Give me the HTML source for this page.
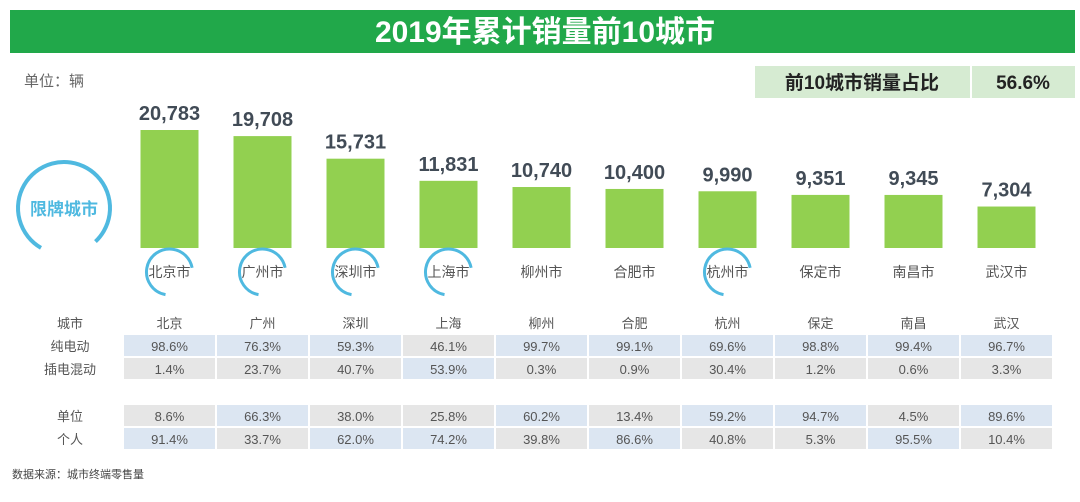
<!DOCTYPE html>
<html><head><meta charset="utf-8"><style>
body{margin:0;width:1080px;height:497px;background:#fff;overflow:hidden;font-family:"Liberation Sans","Noto Sans CJK SC",sans-serif;}
#wrap{position:relative;width:1080px;height:497px;}
svg text{font-family:"Liberation Sans","Noto Sans CJK SC",sans-serif;}
</style></head><body>
<div id="wrap">
<svg id="chart" width="1080" height="497">
  <rect x="10" y="10" width="1065" height="43" fill="#21a84a"/>
  <text x="545" y="42" text-anchor="middle" font-size="30" font-weight="bold" fill="#fff">2019年累计销量前10城市</text>
  <text x="24" y="86" font-size="15" fill="#666">单位：辆</text>
  <rect x="755" y="66" width="320" height="32" fill="#d6ebd2"/>
  <line x1="971" y1="66" x2="971" y2="98" stroke="#fff" stroke-width="2"/>
  <text x="862" y="89" text-anchor="middle" font-size="19" font-weight="bold" fill="#222">前10城市销量占比</text>
  <text x="1023" y="89" text-anchor="middle" font-size="19" font-weight="bold" fill="#222">56.6%</text>
  <circle cx="64" cy="208" r="46" fill="none" stroke="#4fb9e0" stroke-width="4" stroke-dasharray="230 60" transform="rotate(120 64 208)"/>
  <text x="64" y="215" text-anchor="middle" font-size="17" font-weight="bold" fill="#4fb9e0">限牌城市</text>
  <g id="bars"></g>
  <g id="table"></g>
  <text x="12" y="478" font-size="11" fill="#444">数据来源：城市终端零售量</text>
</svg>
</div>
<script>
const cities=["北京","广州","深圳","上海","柳州","合肥","杭州","保定","南昌","武汉"];
const sales=[20783,19708,15731,11831,10740,10400,9990,9351,9345,7304];
const restricted=[true,true,true,true,false,false,true,false,false,false];
const bev=[98.6,76.3,59.3,46.1,99.7,99.1,69.6,98.8,99.4,96.7];
const phev=[1.4,23.7,40.7,53.9,0.3,0.9,30.4,1.2,0.6,3.3];
const org=[8.6,66.3,38.0,25.8,60.2,13.4,59.2,94.7,4.5,89.6];
const personal=[91.4,33.7,62.0,74.2,39.8,86.6,40.8,5.3,95.5,10.4];
const NS="http://www.w3.org/2000/svg";
const x0=123,band=93,baseY=248,yScale=118/20783;
const cx=i=>x0+band*i+band/2;
const y=v=>baseY-v*yScale;
function mk(t,a,p){const e=document.createElementNS(NS,t);for(const k in a)e.setAttribute(k,a[k]);p.appendChild(e);return e;}
const bars=document.getElementById('bars');
sales.forEach((v,i)=>{
  const r=mk('rect',{x:cx(i)-29,y:y(v),width:58,height:baseY-y(v),fill:'#92d050'},bars);
  
  
  const t=mk('text',{x:cx(i),y:y(v)-10,'text-anchor':'middle','font-size':20,'font-weight':'bold',fill:'#414b56'},bars);
  t.textContent=v.toLocaleString('en-US');
  
  
  if(restricted[i]){
    const c=mk('circle',{cx:cx(i),cy:272,r:23,fill:'none',stroke:'#4fb9e0','stroke-width':3,'stroke-dasharray':'100 45',transform:`rotate(100 ${cx(i)} 272)`},bars);
    
    
  }
  const l=mk('text',{x:cx(i),y:277,'text-anchor':'middle','font-size':14,fill:'#555'},bars);
  l.textContent=cities[i]+'市';
  
  
});
const tbl=document.getElementById('table');
const BLUE='#dce6f2',GRAY='#e6e6e6';
function label(txt,yy){const t=mk('text',{x:70,y:yy,'text-anchor':'middle','font-size':13,fill:'#555'},tbl);t.textContent=txt;}
label('城市',328);
cities.forEach((c,i)=>{const t=mk('text',{x:cx(i),y:328,'text-anchor':'middle','font-size':13,fill:'#555'},tbl);t.textContent=c;});
function row(name,vals,other,top){
  label(name,top+16);
  vals.forEach((v,i)=>{
    const r=mk('rect',{x:cx(i)-band/2+1,y:top,width:band-2,height:21,fill:v>other[i]?BLUE:GRAY},tbl);
    
    
    const t=mk('text',{x:cx(i),y:top+16,'text-anchor':'middle','font-size':13,fill:'#555'},tbl);
    t.textContent=v.toFixed(1)+'%';
    
    
  });
}
row('纯电动',bev,phev,335);
row('插电混动',phev,bev,358);
row('单位',org,personal,405);
row('个人',personal,org,428);
</script>
</body></html>
